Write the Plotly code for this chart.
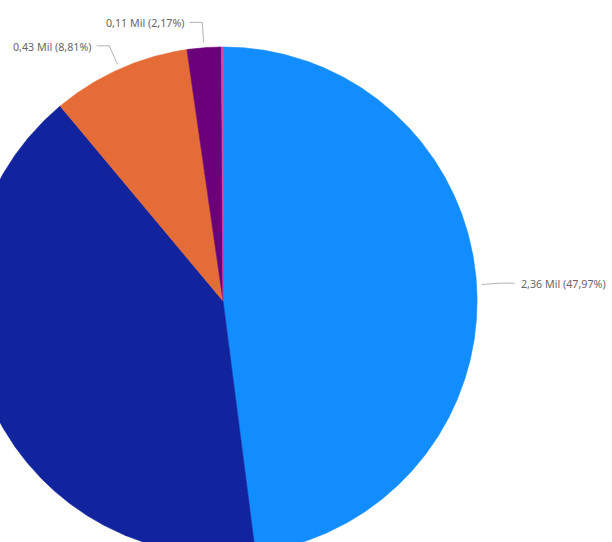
import numpy as np
import plotly.graph_objects as go

# Segment values in millions, drawn clockwise from 12 o'clock
segments = ["Segmento A", "Segmento B", "Segmento C", "Segmento D", "Segmento E"]
values_mil = [2.36, 2.015, 0.4335, 0.1068, 0.0049]
colors = ["#118DFF", "#12239E", "#E66C37", "#6B007B", "#E044A7"]
show_label = [True, False, True, True, False]

total = sum(values_mil)
fracs = [v / total for v in values_mil]

fig = go.Figure()

# Wedges as filled polygons in a unit-radius coordinate system
start = 90.0
annotations = []
for name, v, f, col, lab in zip(segments, values_mil, fracs, colors, show_label):
    span = 360.0 * f
    n = max(4, int(span * 3))
    ang = np.radians(np.linspace(start, start - span, n))
    xs = np.concatenate([[0.0], np.cos(ang), [0.0]])
    ys = np.concatenate([[0.0], np.sin(ang), [0.0]])
    fig.add_trace(go.Scatter(
        x=xs, y=ys, mode="lines", fill="toself", fillcolor=col,
        line=dict(color=col, width=0.6), name=name,
        hoverinfo="text",
        text=f"{name}: {v:.2f} Mil ({f*100:.2f}%)".replace(".", ","),
        showlegend=False,
    ))
    if lab:
        mid = np.radians(start - span / 2)
        cx, cy = np.cos(mid), np.sin(mid)
        side = 1 if cx >= 0 else -1
        x0, y0 = 1.02 * cx, 1.02 * cy
        x1, y1 = 1.10 * cx, 1.10 * cy
        x2 = x1 + side * 0.05
        fig.add_trace(go.Scatter(
            x=[x0, x1, x2], y=[y0, y1, y1], mode="lines",
            line=dict(color="#B3B3B3", width=1),
            hoverinfo="skip", showlegend=False,
        ))
        label = f"{v:.2f} Mil ({f*100:.2f}%)".replace(".", ",")
        annotations.append(dict(
            x=x2, y=y1, xref="x", yref="y", text=label, showarrow=False,
            xanchor="left" if side > 0 else "right", yanchor="middle",
            xshift=4 * side, yshift=-1,
            font=dict(family="Noto Sans, Open Sans, sans-serif", size=10.7, color="#666666"),
        ))
    start -= span

fig.update_layout(
    width=612, height=542,
    margin=dict(l=0, r=0, t=0, b=0),
    paper_bgcolor="white", plot_bgcolor="white",
    xaxis=dict(range=[-0.878, 1.531], visible=False, fixedrange=True),
    yaxis=dict(range=[-0.949, 1.185], visible=False, fixedrange=True),
    annotations=annotations,
    showlegend=False,
)

fig.write_html("out.html")
